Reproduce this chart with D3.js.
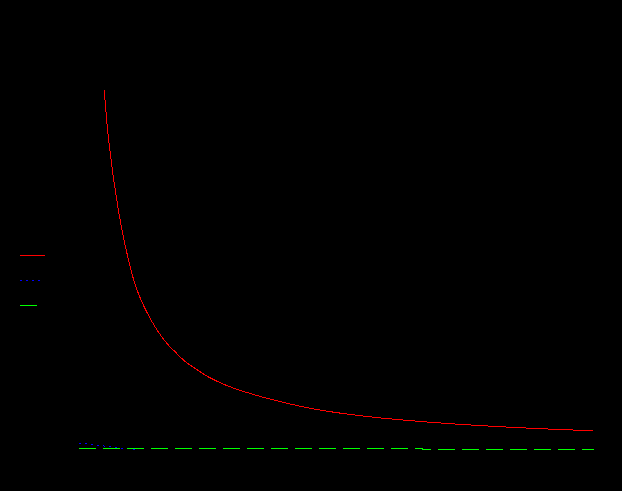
<!DOCTYPE html>
<html>
<head>
<meta charset="utf-8">
<script src="https://cdn.jsdelivr.net/npm/d3@7"></script>
<style>
html, body { margin: 0; padding: 0; background: #000; }
svg { display: block; }
</style>
</head>
<body>
<svg id="chart" width="622" height="491"></svg>
<script>
// Series data (x, y in data units)
const redX = [4.91,5.11,5.32,5.55,5.81,6.06,6.35,6.64,6.95,7.28,7.65,8.06,8.50,8.99,9.53,10.10,10.74,11.51,12.49,13.46,14.76,16.06,17.34,18.64,20.49,22.52,24.47,26.41,28.35,30.29,32.23,34.82,37.42,40.00,42.58,46.16,51.26,56.50,62.14,66.80,72.04,77.86,84.27,89.51,94.76,99.81];
const redY = [100,96.11,92.5,88.89,85.56,82.5,79.17,76.11,73.06,70.0,66.67,63.33,60.0,56.67,53.33,50,46.67,43.53,40.28,37.5,34.25,31.47,29.17,27.31,24.72,22.69,20.83,19.36,18.11,17.06,16.14,15.03,14.03,13.11,12.28,11.25,10.14,9.22,8.42,7.86,7.31,6.78,6.28,5.92,5.61,5.36];
const blueX = [0,1.17,2.27,3.30,4.41,5.38,6.54,7.63,8.74,10.87];
const blueY = [1.81,1.81,1.53,1.42,1.25,0.97,0.97,0.69,0.42,0.14];
const greenX = [0,66.6,66.7,100];
const greenY = [0.42,0.42,0.14,0.14];
const seriesNames = ["Series 1","Series 2","Series 3"];
const xTicks = [0,20,40,60,80,100];

const svg = d3.select("#chart");
const x = d3.scaleLinear().domain([0,100]).range([79,594]);
const y = d3.scaleLinear().domain([0,100]).range([450,90]);

// axes (black, as in reference)
svg.append("g").attr("transform","translate(0,460)")
  .call(d3.axisBottom(x).tickValues(xTicks)).attr("color","#000");

const zip = (a,b) => a.map((v,i) => [v,b[i]]);

const series = [
  {name: seriesNames[0], data: zip(redX, redY), color: "#ff0000", dash: null, curve: d3.curveMonotoneX},
  {name: seriesNames[1], data: zip(blueX, blueY), color: "#0000ff", dash: "2,4", curve: d3.curveLinear},
  {name: seriesNames[2], data: zip(greenX, greenY), color: "#00ff00", dash: "17,7", curve: d3.curveLinear}
];

series.forEach(s => {
  const line = d3.line().x(d => x(d[0])).y(d => y(d[1])).curve(s.curve);
  svg.append("path")
    .attr("d", line(s.data))
    .attr("fill","none")
    .attr("stroke", s.color)
    .attr("stroke-width", 1)
    .attr("shape-rendering","crispEdges")
    .attr("stroke-dasharray", s.dash);
});

// legend
const leg = svg.append("g");
series.forEach((s,i) => {
  const yy = 255.5 + i*25;
  leg.append("line")
    .attr("x1",20).attr("x2", i===0 ? 45 : 44)
    .attr("y1",yy).attr("y2",yy)
    .attr("stroke", s.color)
    .attr("stroke-width", 1)
    .attr("shape-rendering","crispEdges")
    .attr("stroke-dasharray", s.dash);
  leg.append("text")
    .attr("x",50).attr("y",yy+4)
    .attr("fill","#000")
    .attr("font-family","DejaVu Sans")
    .attr("font-size",10)
    .text(s.name);
});
</script>
</body>
</html>
